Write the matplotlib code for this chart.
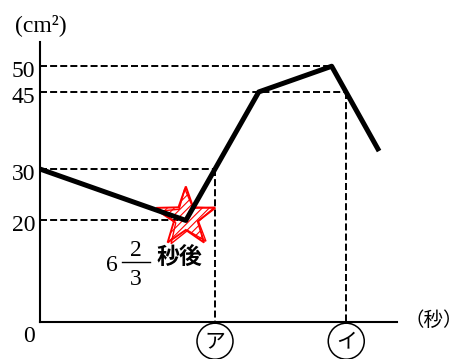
import matplotlib

matplotlib.use("Agg")
import matplotlib.pyplot as plt
import numpy as np
from matplotlib import patches, transforms

# 時間 (秒) と面積 (cm²) の変化
time_s = [0, 20 / 3, 10, 40 / 3, 15.5]
area_cm2 = [30, 20, 45, 50, 33.5]

y_ticks = [20, 30, 45, 50]
t_min, area_min = 20 / 3, 20   # 6 2/3 秒後 に最小
t_a, area_a = 8, 30            # ア
t_i, area_i = 14, 45           # イ
t_peak, area_peak = 40 / 3, 50

SERIF = "Liberation Serif"
CJK = ["Noto Sans CJK JP", "DejaVu Sans"]

W, H, DPI = 463, 359, 100
fig = plt.figure(figsize=(W / DPI, H / DPI), dpi=DPI)
ax = fig.add_axes([40 / W, (H - 321.7) / H, 357 / W, 279.7 / H])
ax.set_xlim(0, 357 / 21.875)
ax.set_ylim(0.3, 0.3 + 279.7 / 5.14)


def px(x, y):
    """pixel position (from top-left) -> figure fraction"""
    return x / W, 1 - y / H


def at_data(x, y, dx=0.0, dy=0.0):
    """transform for shapes given in pixels around a data point"""
    return (transforms.Affine2D().translate(dx, dy)
            + transforms.ScaledTranslation(x, y, ax.transData))


for side in ("top", "right"):
    ax.spines[side].set_visible(False)
for side in ("left", "bottom"):
    ax.spines[side].set_linewidth(1.5)
    ax.spines[side].set_color("black")

ax.set_xticks([])
ax.set_yticks(y_ticks)
ax.set_yticklabels([str(v) for v in y_ticks], fontfamily=SERIF, fontsize=17)
ax.tick_params(axis="y", length=0, pad=3.5)
for lab in ax.get_yticklabels():
    lab.set_transform(lab.get_transform()
                      + transforms.ScaledTranslation(0, -3 / DPI, fig.dpi_scale_trans))

# 補助の破線
dash = dict(color="black", lw=1.4, linestyle=(0, (3.6, 1.6)), clip_on=False)
ax.plot([0, t_peak], [area_peak, area_peak], **dash)
ax.plot([0, t_i], [area_i, area_i], **dash)
ax.plot([0, t_a], [area_a, area_a], **dash)
ax.plot([0, t_min], [area_min, area_min], **dash)
ax.plot([t_a, t_a], [area_a, 0.3], **dash)
ax.plot([t_i, t_i], [area_i, 0.3], **dash)

# 星印 (最小の点): 赤い輪郭を二重に描き、内側に斜線
ang = np.pi / 2 + np.arange(10) * np.pi / 5
rad = np.where(np.arange(10) % 2 == 0, 31, 12.5)
star = np.column_stack([rad * np.cos(ang), rad * np.sin(ang)])
star_tr = at_data(t_min, area_min, 0, 3)
star_patch = patches.Polygon(star, closed=True, facecolor="none", edgecolor="red",
                             lw=1.4, transform=star_tr, zorder=3, clip_on=False)
ax.add_patch(star_patch)
rot = transforms.Affine2D().rotate_deg(4).scale(0.96)
ax.add_patch(patches.Polygon(rot.transform(star), closed=True, facecolor="none",
                             edgecolor="red", lw=1.0,
                             transform=at_data(t_min, area_min, 1, 2), zorder=3))
for c in np.arange(-42, 43, 7):
    ln, = ax.plot([-40, 40], [-40 + c, 40 + c], color="red", lw=0.8,
                  transform=star_tr, zorder=3)
    ln.set_clip_path(star_patch)

# 面積のグラフ
ax.plot(time_s, area_cm2, color="black", lw=3.6, solid_capstyle="butt",
        zorder=4, clip_on=False)

# 6 2/3 秒後
ann = dict(xy=(t_min, area_min), textcoords="offset pixels", ha="center",
           va="center", annotation_clip=False)
ax.annotate("6", xytext=(-74, -45), fontfamily=SERIF, fontsize=17, **ann)
ax.annotate("2", xytext=(-50, -30), fontfamily=SERIF, fontsize=17, **ann)
ax.annotate("3", xytext=(-50, -59), fontfamily=SERIF, fontsize=17, **ann)
ax.plot([122, 150], [262, 262], color="black", lw=1.0,
        transform=transforms.Affine2D().scale(1, -1).translate(0, H), clip_on=False)
ax.annotate("秒後", xytext=(-6, -37), fontfamily=CJK, fontsize=16.5,
            fontweight="bold", **ann)

# ア・イ
for t, kana in ((t_a, "ア"), (t_i, "イ")):
    ax.add_patch(patches.Circle((0, 0), 18, fill=False, edgecolor="black", lw=1.1,
                                transform=at_data(t, 0.3, 0, -19.5), clip_on=False))
    ax.annotate(kana, xy=(t, 0.3), xytext=(0, -20), textcoords="offset pixels",
                ha="center", va="center", fontfamily=CJK, fontsize=15,
                annotation_clip=False)

fig.text(*px(41, 25), "(cm²)", ha="center", va="center", fontfamily=SERIF,
         fontsize=17)
fig.text(*px(29, 337), "0", ha="center", va="center", fontfamily=SERIF,
         fontsize=17)
fig.text(*px(434, 320), "（秒）", ha="center", va="center", fontfamily=CJK,
         fontsize=14)

fig.savefig("out.png", dpi=DPI)
